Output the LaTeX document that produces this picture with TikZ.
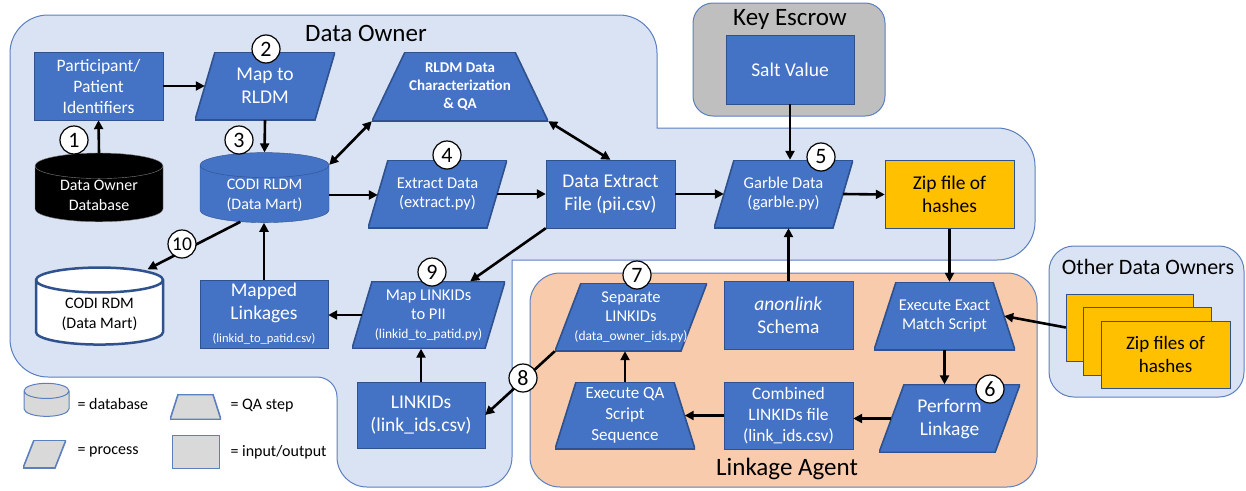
\documentclass[tikz,border=0pt]{standalone}
\usepackage{fontspec}
\setmainfont{Carlito}
\usetikzlibrary{shapes.geometric,arrows.meta,calc}

\definecolor{boxblue}{HTML}{4472C4}
\definecolor{boxedge}{HTML}{2F528F}
\definecolor{ownerfill}{HTML}{DAE3F3}
\definecolor{regionedge}{HTML}{5B7FBF}
\definecolor{escrowfill}{HTML}{BFBFBF}
\definecolor{agentfill}{HTML}{F8CBAD}
\definecolor{hashfill}{HTML}{FFC000}
\definecolor{legendfill}{HTML}{D9D9D9}

\newcommand{\szTitle}{\fontsize{25}{29}\selectfont}
\newcommand{\szL}{\fontsize{19.5}{23}\selectfont}
\newcommand{\szM}{\fontsize{17.5}{21}\selectfont}
\newcommand{\szDb}{\fontsize{16}{20}\selectfont}
\newcommand{\szS}{\fontsize{16.5}{19}\selectfont}
\newcommand{\szXS}{\fontsize{13.5}{16}\selectfont}
\newcommand{\szNum}{\fontsize{22}{22}\selectfont}

\tikzset{
    lean/.store in=\boxlean, lean=20pt,
    shapefill/.store in=\boxfill, shapefill=boxblue,
    shapeedge/.store in=\boxedge, shapeedge=boxedge,
}

\begin{document}
\begin{tikzpicture}[x=1pt, y=-1pt,
    region/.style={draw=regionedge, line width=1pt},
    iobox/.style={rectangle, draw=boxedge, fill=boxblue, text=white, align=center, inner sep=1pt},
    procbox/.style={rectangle, text=white, align=center, inner sep=1pt,
        path picture={\filldraw[fill=\boxfill, draw=\boxedge, line width=1.6pt]
            ([xshift=\boxlean]path picture bounding box.north west) -- (path picture bounding box.north east)
            -- ([xshift=-\boxlean]path picture bounding box.south east) -- (path picture bounding box.south west) -- cycle;}},
    qabox/.style={rectangle, text=white, align=center, inner sep=1pt,
        path picture={\filldraw[fill=\boxfill, draw=\boxedge, line width=1.6pt]
            ([xshift=\boxlean]path picture bounding box.north west) -- ([xshift=-\boxlean]path picture bounding box.north east)
            -- (path picture bounding box.south east) -- (path picture bounding box.south west) -- cycle;}},
    dbbox/.style={cylinder, shape border rotate=90, aspect=0.32, draw=boxedge, fill=boxblue,
        text=white, align=center, inner sep=1pt},
    hashbox/.style={rectangle, draw=boxedge, fill=hashfill, align=center, inner sep=1pt},
    num/.style={circle, draw=black, fill=white, line width=1.2pt, minimum size=28pt, inner sep=0pt, font=\szNum},
    arr/.style={line width=2.6pt, -{Triangle[length=9pt,width=9pt]}},
    dbl/.style={line width=2.6pt, {Triangle[length=9pt,width=9pt]}-{Triangle[length=9pt,width=9pt]}},
]
\useasboundingbox (0,0) rectangle (1246,490);

% regions
\draw[region, fill=ownerfill, rounded corners=38pt] (300,15) -- (657,15) [sharp corners] -- (657,128)
    [rounded corners=38pt] -- (1035,128) -- (1035,260) [sharp corners] -- (512,260)
    [rounded corners=30pt] -- (512,487) -- (337,487) [rounded corners=20pt] -- (337,377)
    [rounded corners=38pt] -- (10,377) -- (10,15) -- cycle;
\draw[region, fill=escrowfill, rounded corners=20pt] (693,3) rectangle (885,116);
\draw[region, fill=agentfill, rounded corners=30pt] (530,273) rectangle (1037,487);
\draw[region, fill=ownerfill, rounded corners=25pt] (1049,246) rectangle (1244,397);
\node[font=\szTitle] (ownerlbl) at (366,33) {Data Owner};
\node[font=\szTitle] (escrowlbl) at (790,19) {Key Escrow};
\node[font=\szTitle] (agentlbl) at (787,469) {Linkage Agent};
\node[font=\fontsize{22}{26}\selectfont] (otherlbl) at (1148,267) {Other Data Owners};

% data owner
\node[iobox, minimum width=129pt, minimum height=68pt, font=\szM] (pid) at (98.5,86) {Participant/\\Patient\\Identifiers};
\node[procbox, lean=20pt, minimum width=140pt, minimum height=68pt, font=\szL] (maprldm) at (265,86) {Map to\\RLDM};
\node[dbbox, fill=black, draw=gray, minimum width=128pt, minimum height=65pt, font=\szDb] (ownerdb) at (99,195) {Data Owner\\Database};
\node[dbbox, minimum width=129pt, minimum height=65pt, font=\szDb] (rldm) at (264.5,195) {CODI RLDM\\(Data Mart)};
\node[qabox, lean=33pt, minimum width=176pt, minimum height=69pt, font=\fontsize{15}{18}\selectfont\bfseries] (rldmqa) at (460,86.5) {RLDM Data\\Characterization\\\& QA};
\node[procbox, lean=20pt, minimum width=139pt, minimum height=68pt, font=\szS] (extract) at (437.5,194) {Extract Data\\(extract.py)};
\node[iobox, minimum width=129pt, minimum height=68pt, font=\szL] (piifile) at (610.5,194) {Data Extract\\File (pii.csv)};
\node[procbox, lean=20pt, minimum width=139pt, minimum height=68pt, font=\szS] (garble) at (783.5,194) {Garble Data\\(garble.py)};
\node[hashbox, minimum width=129pt, minimum height=68pt, font=\szL] (zip) at (949.5,194.5) {Zip file of\\hashes};
\node[iobox, minimum width=128pt, minimum height=69pt, font=\szL] (salt) at (790,69.5) {Salt Value};
\node[dbbox, fill=white, text=black, line width=2.5pt, minimum width=127pt, minimum height=77pt, font=\szDb] (rdm) at (99.5,314) {CODI RDM\\(Data Mart)};
\node[iobox, minimum width=128pt, minimum height=68pt, font=\szL] (mapped) at (264,314) {Mapped\\Linkages\\\fontsize{12.5}{15}\selectfont (linkid\_to\_patid.csv)};
\node[procbox, lean=20pt, minimum width=153pt, minimum height=67pt, font=\szS] (maplink) at (428.5,315) {Map LINKIDs\\to PII\\\szXS (linkid\_to\_patid.py)};
\node[iobox, minimum width=128pt, minimum height=66pt, font=\szL] (linkids) at (421,415) {LINKIDs\\(link\_ids.csv)};

% linkage agent
\node[procbox, lean=26pt, minimum width=152pt, minimum height=68pt, font=\szS] (separate) at (631,317) {Separate\\LINKIDs\\\szXS (data\_owner\_ids.py)};
\node[iobox, minimum width=129pt, minimum height=68pt, font=\szL] (schema) at (788.5,315) {\textit{anonlink}\\Schema};
\node[qabox, lean=22pt, minimum width=141pt, minimum height=68pt, font=\szS] (exact) at (944.5,316) {Execute Exact\\Match Script};
\node[procbox, lean=25pt, minimum width=141pt, minimum height=68pt, font=\szL] (perform) at (949.5,418.5) {Perform\\Linkage};
\node[iobox, minimum width=129pt, minimum height=67pt, font=\szM] (combined) at (788.5,415.5) {Combined\\LINKIDs file\\(link\_ids.csv)};
\node[qabox, lean=21pt, minimum width=140pt, minimum height=67pt, font=\fontsize{17}{21}\selectfont] (qaseq) at (625,415.5) {Execute QA\\Script\\Sequence};

% other data owners
\node[hashbox, minimum width=127pt, minimum height=67pt] (zipa) at (1129.5,327.5) {};
\node[hashbox, minimum width=128pt, minimum height=68pt] (zipb) at (1147,341) {};
\node[hashbox, minimum width=129pt, minimum height=67pt, font=\fontsize{19}{23}\selectfont] (zipc) at (1165.5,354.5) {Zip files of\\hashes};

% legend
\node[dbbox, aspect=0.4, fill=legendfill, draw=regionedge, line width=1pt, minimum width=45pt, minimum height=26pt] (legdb) at (46.5,405) {\phantom{\rule{36pt}{10pt}}};
\node[anchor=west, font=\szDb] (legdbtxt) at (74,404) {= database};
\node[qabox, lean=8pt, shapefill=legendfill, shapeedge=regionedge, minimum width=51pt, minimum height=25pt] (legqa) at (195.5,407) {};
\node[anchor=west, font=\szDb] (legqatxt) at (227,406) {= QA step};
\node[procbox, lean=11pt, shapefill=legendfill, shapeedge=regionedge, minimum width=43pt, minimum height=28pt] (legproc) at (44.5,454) {};
\node[anchor=west, font=\szDb] (legproctxt) at (74,452) {= process};
\node[rectangle, fill=legendfill, draw=regionedge, line width=1pt, minimum width=47pt, minimum height=33pt] (legio) at (195.5,451.5) {};
\node[anchor=west, font=\szDb] (legiotxt) at (227,452) {= input/output};

% flow
\draw[arr] (pid.east) -- ([xshift=10pt]maprldm.west);
\draw[arr] (ownerdb.north) -- (pid.south);
\draw[arr] (maprldm.south) -- (rldm.north);
\draw[dbl] (rldm.25) -- (rldmqa.south west);
\draw[dbl] (rldmqa.south east) -- (piifile.north);
\draw[arr] (rldm.east) -- ([xshift=10pt]extract.west |- rldm.east);
\draw[arr] ([xshift=-10pt]extract.east) -- (piifile.west);
\draw[arr] (piifile.east) -- ([xshift=10pt]garble.west);
\draw[arr] (salt.south) -- (salt.south |- garble.north);
\draw[arr] ([xshift=-10pt]garble.east) -- (zip.west);
\draw[arr] (zip.south) -- (zip.south |- exact.north);
\draw[arr] (schema.north) -- (schema.north |- garble.south);
\draw[arr] (zipa.west) -- ([xshift=-11pt]exact.east);
\draw[arr] (exact.south) -- (exact.south |- perform.north);
\draw[arr] ([xshift=12pt]perform.west) -- (combined.east |- perform.west);
\draw[arr] (combined.west) -- ([xshift=-10.5pt]qaseq.east |- combined.west);
\draw[arr] (qaseq.north) -- (qaseq.north |- separate.south);
\draw[arr] (separate.south west) -- (linkids.east);
\draw[arr] (linkids.north) -- (linkids.north |- maplink.south);
\draw[arr] ([xshift=10pt]maplink.west) -- (mapped.east |- maplink.west);
\draw[arr] (mapped.north) -- (mapped.north |- rldm.south);
\draw[arr] (piifile.south west) -- ([xshift=-35pt]maplink.north east);
\draw[arr] (rldm.228) -- ($(rdm.north)+(48,3)$);

% step numbers
\node[num] (n1) at (74,140) {1};
\node[num] (n2) at (266,49) {2};
\node[num] (n3) at (239,140) {3};
\node[num] (n4) at (447,155) {4};
\node[num] (n5) at (821,157) {5};
\node[num] (n6) at (990,389) {6};
\node[num] (n7) at (637,275) {7};
\node[num] (n8) at (523,378) {8};
\node[num] (n9) at (432,272) {9};
\node[num, font=\szL] (n10) at (182,244) {10};
\end{tikzpicture}
\end{document}
